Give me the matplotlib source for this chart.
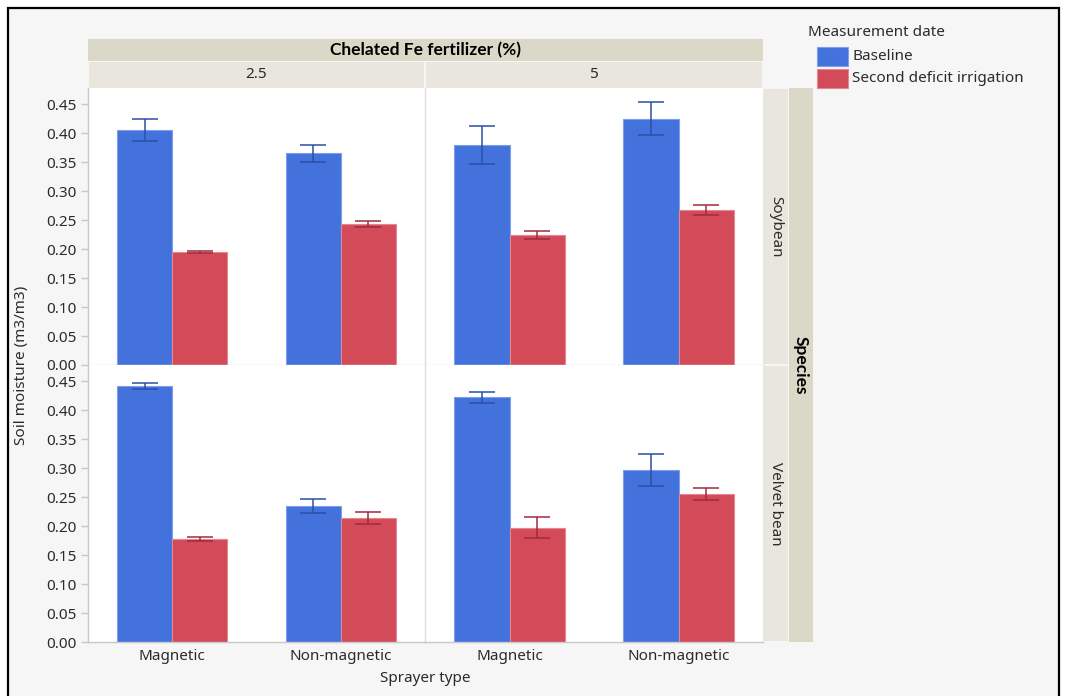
import matplotlib
matplotlib.use("Agg")
import matplotlib.pyplot as plt
from matplotlib.patches import Rectangle
import numpy as np

plt.rcParams['font.family'] = ['Noto Sans', 'DejaVu Sans']

# ---- data -------------------------------------------------------------
fert_levels = ['2.5', '5']
species = ['Soybean', 'Velvet bean']
sprayers = ['Magnetic', 'Non-magnetic']
series = ['Baseline', 'Second deficit irrigation']

# values ordered as (2.5, Magnetic), (2.5, Non-magnetic), (5, Magnetic), (5, Non-magnetic)
baseline_soy = [0.406, 0.365, 0.380, 0.425]
baseline_soy_err = [0.019, 0.014, 0.033, 0.028]
second_soy = [0.195, 0.244, 0.225, 0.267]
second_soy_err = [0.002, 0.005, 0.007, 0.009]

baseline_vel = [0.442, 0.234, 0.422, 0.297]
baseline_vel_err = [0.005, 0.012, 0.010, 0.027]
second_vel = [0.178, 0.214, 0.197, 0.255]
second_vel_err = [0.003, 0.011, 0.018, 0.010]

yticks = [0.00, 0.05, 0.10, 0.15, 0.20, 0.25, 0.30, 0.35, 0.40, 0.45]

# ---- styling ------------------------------------------------------------
W, H = 1065, 696
bar_colors = ['#4472DC', '#D34A59']
err_colors = ['#2A4FA6', '#A42A3A']
edge_colors = ['#7F9EEA', '#E58790']
strip_light = '#E8E6DD'
strip_dark = '#DAD8C6'
bg = '#F6F6F6'
grid_grey = '#C8C8C8'
text_col = '#2B2B2B'
fs = 11
fs_bold = 12.5
bold_family = ['Lato', 'DejaVu Sans']


def box(x0, y0, x1, y1):
    """Convert pixel box (top-left origin) to figure fraction rect."""
    return [x0 / W, 1 - y1 / H, (x1 - x0) / W, (y1 - y0) / H]


fig = plt.figure(figsize=(W / 100, H / 100), dpi=100)
fig.patch.set_facecolor('white')

# background layer: outer frame with light fill (bottom edge runs off the canvas)
ax_bg = fig.add_axes([0, 0, 1, 1], zorder=-5)
ax_bg.set_xlim(0, W)
ax_bg.set_ylim(H, 0)
ax_bg.axis('off')
ax_bg.add_patch(Rectangle((8, 8), 1059 - 8, H + 20, facecolor=bg,
                          edgecolor='black', linewidth=1.6))

col_x = [(88, 425), (425, 763)]
row_y = [(88, 365), (365, 642)]
ymax = 0.478

data = {
    'Soybean': (baseline_soy, baseline_soy_err, second_soy, second_soy_err),
    'Velvet bean': (baseline_vel, baseline_vel_err, second_vel, second_vel_err),
}

bar_w = 0.326
for r, sp in enumerate(species):
    b, be, s, se = data[sp]
    for c, fert in enumerate(fert_levels):
        x0, x1 = col_x[c]
        y0, y1 = row_y[r]
        ax = fig.add_axes(box(x0, y0, x1, y1))
        ax.set_facecolor('white')
        idx = [2 * c, 2 * c + 1]
        xpos = np.arange(len(sprayers))
        for k, (vals, errs) in enumerate([(b, be), (s, se)]):
            v = [vals[i] for i in idx]
            e = [errs[i] for i in idx]
            xs = xpos + (k - 0.5) * bar_w
            ax.bar(xs, v, width=bar_w, color=bar_colors[k],
                   edgecolor=edge_colors[k], linewidth=0.8, zorder=2)
            ax.errorbar(xs, v, yerr=e, fmt='none', ecolor=err_colors[k],
                        elinewidth=1.1, capsize=9.5, capthick=1.1, zorder=3)
        ax.set_xlim(-0.5, 1.5)
        ax.set_ylim(0, ymax)
        for side in ['top', 'right']:
            ax.spines[side].set_visible(False)
        ax.spines['left'].set_color(grid_grey if c == 0 else '#DDDDDD')
        ax.spines['bottom'].set_color(grid_grey if r == 1 else '#DDDDDD')
        ax.spines['left'].set_linewidth(1.0)
        ax.spines['bottom'].set_linewidth(1.0)
        ax.set_yticks(yticks)
        ax.set_xticks(xpos)
        ax.tick_params(colors=grid_grey, labelcolor=text_col, labelsize=fs,
                       length=5, width=1)
        if c == 0:
            ax.set_yticklabels([f'{t:.2f}' for t in yticks])
        else:
            ax.tick_params(axis='y', left=False, labelleft=False)
        if r == 1:
            ax.set_xticklabels(sprayers)
            ax.tick_params(axis='x', length=0, pad=5)
        else:
            ax.tick_params(axis='x', bottom=False, labelbottom=False)

# overlay for strips, titles and legend
ax_s = fig.add_axes([0, 0, 1, 1], facecolor='none', zorder=5)
ax_s.set_xlim(0, W)
ax_s.set_ylim(H, 0)
ax_s.axis('off')
ax_s.add_patch(Rectangle((88, 39), 763 - 88, 22, facecolor=strip_dark,
                         edgecolor='none'))
ax_s.text((88 + 763) / 2, 50, 'Chelated Fe fertilizer (%)', ha='center',
          va='center', fontsize=fs_bold, fontweight='bold', color='black',
          family=bold_family)
for c, fert in enumerate(fert_levels):
    x0, x1 = col_x[c]
    ax_s.add_patch(Rectangle((x0 + 1, 62), x1 - x0 - 2, 26,
                             facecolor=strip_light, edgecolor='none'))
    ax_s.text((x0 + x1) / 2, 75, fert, ha='center', va='center',
              fontsize=fs, color=text_col)

for r, sp in enumerate(species):
    y0, y1 = row_y[r]
    ax_s.add_patch(Rectangle((763, y0 + 1), 25, y1 - y0 - 2,
                             facecolor=strip_light, edgecolor='none'))
    ax_s.text(776, (y0 + y1) / 2, sp, ha='center', va='center',
              rotation=-90, fontsize=fs, color=text_col)
ax_s.add_patch(Rectangle((789, 88), 24, 642 - 88, facecolor=strip_dark,
                         edgecolor='none'))
ax_s.text(801, 365, 'Species', ha='center', va='center', rotation=-90,
          fontsize=fs_bold, fontweight='bold', color='black',
          family=bold_family)

ax_s.text(22, 365, 'Soil moisture (m3/m3)', ha='center', va='center',
          rotation=90, fontsize=fs, color=text_col)
ax_s.text(425, 679, 'Sprayer type', ha='center', va='center',
          fontsize=fs, color=text_col)

ax_s.text(808, 32, 'Measurement date', ha='left', va='center',
          fontsize=fs, color=text_col)
for k, name in enumerate(series):
    yy = 47 + 22 * k
    ax_s.add_patch(Rectangle((817, yy), 31, 19, facecolor=bar_colors[k],
                             edgecolor=edge_colors[k], linewidth=0.8))
    ax_s.text(852, yy + 10, name, ha='left', va='center', fontsize=fs,
              color=text_col)

fig.savefig('out.png', dpi=100, facecolor=fig.get_facecolor())
